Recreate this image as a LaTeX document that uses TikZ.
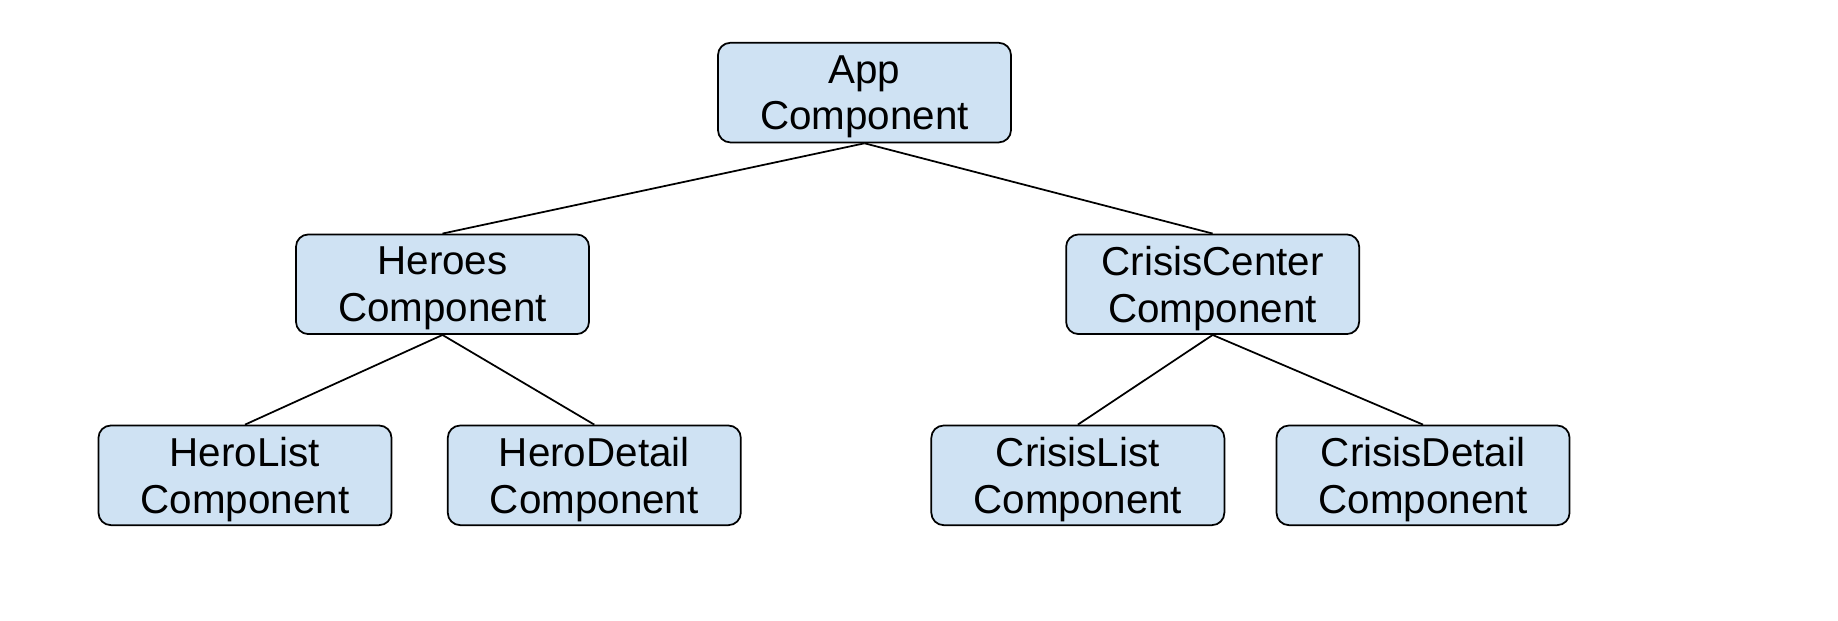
\documentclass[tikz,border=0pt]{standalone}
\usepackage{fontspec}
\setmainfont{Liberation Sans}
\usetikzlibrary{positioning}
\definecolor{boxblue}{HTML}{CFE2F3}

\begin{document}
\begin{tikzpicture}[
  font=\fontsize{19.6}{22.7}\selectfont,
  comp/.style={draw, rounded corners=6pt, fill=boxblue, minimum width=5cm, minimum height=1.7cm, align=center, line width=0.85pt, inner sep=2pt, text depth=-1pt},
  link/.style={line width=0.85pt}
]
\useasboundingbox (0,0) rectangle (31.36,10.58);

\node[comp] (app) at (14.75,9.0) {App\\Component};
\node[comp] (heroes) at (7.55,5.73) {Heroes\\Component};
\node[comp] (crisis) at (20.69,5.73) {CrisisCenter\\Component};

\node[comp] (herolist) at (4.18,2.47) {HeroList\\Component};
\node[comp, right=0.93cm of herolist] (herodetail) {HeroDetail\\Component};
\node[comp] (crisislist) at (18.39,2.47) {CrisisList\\Component};
\node[comp, right=0.86cm of crisislist] (crisisdetail) {CrisisDetail\\Component};

\draw[link] (app.south) -- (heroes.north);
\draw[link] (app.south) -- (crisis.north);
\draw[link] (heroes.south) -- (herolist.north);
\draw[link] (heroes.south) -- (herodetail.north);
\draw[link] (crisis.south) -- (crisislist.north);
\draw[link] (crisis.south) -- (crisisdetail.north);

\end{tikzpicture}
\end{document}
